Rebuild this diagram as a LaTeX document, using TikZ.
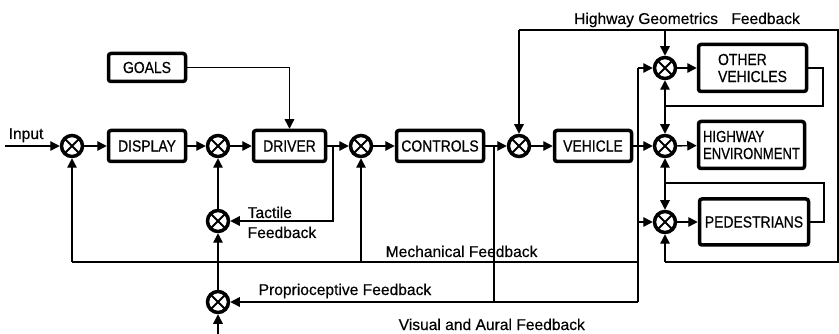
\documentclass[tikz,border=0pt]{standalone}
\usepackage{fontspec}
\setmainfont{Liberation Sans}
\newfontfamily\boxfont[FakeStretch=0.87,FakeBold=0.6]{Liberation Sans}
\newfontfamily\narrowboxfont[FakeStretch=0.82,FakeBold=0.6]{Liberation Sans}
\newfontfamily\labelfont[FakeBold=0.4]{Liberation Sans}
\usetikzlibrary{arrows.meta}
\begin{document}
\begin{tikzpicture}[x=1pt,y=-1pt,
  line width=1.4pt,
  arr/.style={-{Triangle[length=9.5pt,width=9.5pt]}},
  blockbox/.style={draw,line width=3.5pt,rounded corners=2.5pt,inner sep=0pt,
    font=\boxfont\fontsize{16}{17}\selectfont,align=left},
  sumjunc/.style={circle,draw,line width=3.5pt,minimum size=21pt,inner sep=0pt,fill=white,
    path picture={\draw[line width=2pt]
      (path picture bounding box.north west)--(path picture bounding box.south east)
      (path picture bounding box.north east)--(path picture bounding box.south west);}},
  lbl/.style={font=\labelfont\fontsize{15.6}{17}\selectfont,inner sep=0pt}
]
\useasboundingbox (0,0) rectangle (839,334);

% blocks
\node[blockbox,minimum width=77pt,minimum height=28pt] (goals)    at (147,67.5) {GOALS};
\node[blockbox,minimum width=77pt,minimum height=31pt] (display)  at (147,146) {DISPLAY};
\node[blockbox,minimum width=72pt,minimum height=31pt] (driver)   at (289.5,146) {DRIVER};
\node[blockbox,minimum width=87pt,minimum height=31pt] (controls) at (440,146) {CONTROLS};
\node[blockbox,minimum width=77pt,minimum height=31pt] (vehicle)  at (593,146) {VEHICLE};
\node[blockbox,minimum width=108pt,minimum height=47pt] (others)  at (752.5,68) {OTHER\\VEHICLES};
\node[blockbox,minimum width=106pt,minimum height=47pt,
      font=\narrowboxfont\fontsize{16}{17}\selectfont] (highway) at (751.5,145) {HIGHWAY\\ENVIRONMENT};
\node[blockbox,minimum width=109pt,minimum height=46pt] (peds)    at (754,222) {PEDESTRIANS};

% summing junctions
\node[sumjunc] (s1)   at (72,146) {};
\node[sumjunc] (s2)   at (218,146) {};
\node[sumjunc] (s3)   at (361,146) {};
\node[sumjunc] (s4)   at (519,146) {};
\node[sumjunc] (sov)  at (665,68) {};
\node[sumjunc] (she)  at (665,146) {};
\node[sumjunc] (sped) at (665,222) {};
\node[sumjunc] (stac) at (218,221) {};
\node[sumjunc] (spro) at (218,302) {};

% branch points and corners
\coordinate (in)      at (5,146);
\coordinate (bottom)  at (218,334);
\coordinate (drvout)  at (333,146);
\coordinate (ctlout)  at (494,146);
\coordinate (vehout)  at (638,146);
\coordinate (vtop)    at (638,68);
\coordinate (vbot)    at (638,302);
\coordinate (mechR)   at (638,262);
\coordinate (mechL)   at (72,262);
\coordinate (geoL)    at (519,30);
\coordinate (geoR)    at (838,30);
\coordinate (geoRB)   at (838,262);
\coordinate (ovR)     at (823,68);
\coordinate (ovB)     at (823,106);
\coordinate (ovL)     at (665,106);
\coordinate (pdR)     at (824,222);
\coordinate (pdT)     at (824,183);
\coordinate (pdL)     at (665,183);

% forward path
\draw[arr] (in) -- (s1.west);
\draw[arr] (s1) -- (display);
\draw[arr] (display) -- (s2);
\draw[arr] (s2) -- (driver);
\draw[arr] (driver) -- (s3);
\draw[arr] (s3) -- (controls);
\draw[arr] (controls) -- (s4);
\draw[arr] (s4) -- (vehicle);
\draw[arr] (vehicle) -- (she);
\draw[arr] (she) -- (highway);
\draw[arr] (sov) -- (others);
\draw[arr] (sped) -- (peds);
\draw[arr] (goals.east) -| (driver.north);

% vehicle output to the traffic junctions
\draw (vtop) -- (vbot);
\draw[arr] (vtop) -- (sov.west);
\draw[arr] (vtop |- sped) -- (sped.west);

% tactile loop
\draw[arr] (drvout) |- (stac.east);
\draw[arr] (stac) -- (s2);
\draw[arr] (spro) -- (stac);
\draw[arr] (bottom) -- (spro.south);

% mechanical feedback
\draw (mechR) -- (mechL);
\draw[arr] (mechL) -- (s1.south);
\draw[arr] (s3 |- mechL) -- (s3.south);

% proprioceptive feedback
\draw (ctlout) -- (ctlout |- vbot);
\draw[arr] (vbot) -- (spro.east);

% highway geometrics feedback
\draw (geoL) -- (geoR) -- (geoRB) -- (sped |- geoRB);
\draw[arr] (geoL) -- (s4.north);
\draw[arr] (sov |- geoL) -- (sov.north);
\draw[arr] (sped |- geoRB) -- (sped.south);

% interaction loops
\draw (others.east) -- (ovR) -- (ovB) -- (ovL);
\draw[arr] (ovL) -- (she.north);
\draw[arr] (ovL) -- (sov.south);
\draw (peds.east) -- (pdR) -- (pdT) -- (pdL);
\draw[arr] (pdL) -- (sped.north);
\draw[arr] (pdL) -- (she.south);

% labels
\node[lbl,anchor=base west] (linput) at (8,139) {Input};
\node[lbl,anchor=base] (lgeo) at (687,24) {Highway Geometrics\hspace{9pt} Feedback};
\node[lbl,anchor=base west] (ltac1) at (247,218) {Tactile};
\node[lbl,anchor=base west] (ltac2) at (247,238) {Feedback};
\node[lbl,anchor=base west] (lmech) at (385,257) {Mechanical Feedback};
\node[lbl,anchor=base west] (lpro) at (258,295) {Proprioceptive Feedback};
\node[lbl,anchor=base west] (lvis) at (398,330) {Visual and Aural Feedback};
\end{tikzpicture}
\end{document}
